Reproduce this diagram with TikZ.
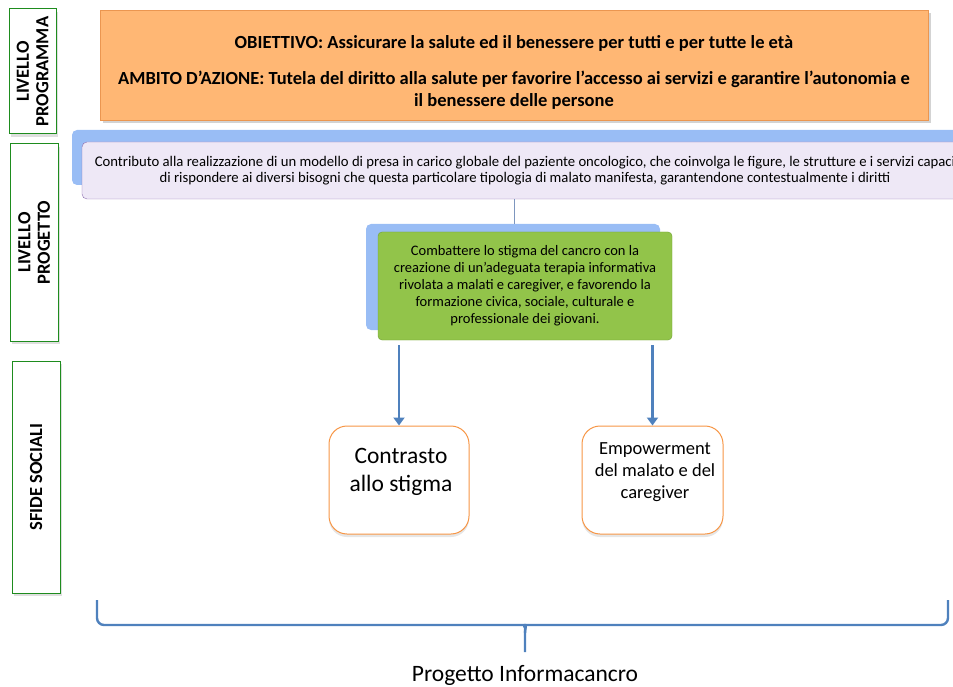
\documentclass[tikz,border=0pt]{standalone}
\usepackage{fontspec}
\setmainfont{Carlito}
\usetikzlibrary{shadows,arrows.meta,calc}
\definecolor{levelgreen}{RGB}{30,140,30}
\definecolor{goalorange}{RGB}{255,183,116}
\definecolor{goalborder}{RGB}{235,150,80}
\definecolor{backblue}{RGB}{153,189,245}
\definecolor{lavfill}{RGB}{238,232,246}
\definecolor{lavborder}{RGB}{140,110,175}
\definecolor{aimgreen}{RGB}{146,196,74}
\definecolor{aimborder}{RGB}{112,160,50}
\definecolor{arrowblue}{RGB}{79,129,189}
\definecolor{linkblue}{RGB}{125,150,190}
\definecolor{boxorange}{RGB}{247,150,70}
\tikzset{
    level/.style = {draw=levelgreen, line width=1pt, fill=white, rotate=90,
        align=center, inner sep=0pt,
        font=\fontsize{18.5}{19.5}\selectfont\bfseries,
        drop shadow={shadow xshift=2pt, shadow yshift=-3pt, opacity=0.25}},
    goal/.style = {draw=goalborder, fill=goalorange,
        minimum width=828pt, minimum height=110pt, inner sep=0pt,
        drop shadow={shadow xshift=3pt, shadow yshift=-3pt, opacity=0.35}},
    goaltext/.style = {align=center, inner sep=0pt,
        font=\fontsize{18.5}{22}\selectfont\bfseries},
    backbox/.style = {fill=backblue, rounded corners=5pt, inner sep=0pt},
    aim/.style = {draw=lavborder, fill=lavfill, rounded corners=5pt,
        align=center, inner sep=0pt,
        font=\fontsize{14.7}{16.5}\selectfont},
    task/.style = {draw=aimborder, fill=aimgreen, rounded corners=4pt,
        align=center, inner sep=0pt,
        font=\fontsize{14.5}{17}\selectfont},
    challenge/.style = {draw=boxorange, line width=1pt, fill=white,
        rounded corners=18pt, minimum width=140pt, minimum height=108pt,
        drop shadow={shadow xshift=0pt, shadow yshift=-3pt, opacity=0.2}},
    arrow/.style = {draw=arrowblue, line width=2.4pt,
        -{Triangle[width=11pt,length=8pt]}},
    link/.style = {draw=linkblue, line width=1pt},
    brace/.style = {draw=arrowblue, line width=2.4pt, line join=round}
}

\begin{document}
\begin{tikzpicture}[x=1pt,y=-1pt]
    \useasboundingbox (0,0) rectangle (953,687);
    \clip (0,0) rectangle (953,687);
    % left level labels
    \node [level, minimum width=125pt, minimum height=47pt] (lprog) at (32.5,71.5) {LIVELLO\\PROGRAMMA};
    \node [level, minimum width=197pt, minimum height=48pt] (lproj) at (34,242.5) {LIVELLO\\PROGETTO};
    \node [level, minimum width=232pt, minimum height=48pt] (lsfide) at (36,477) {SFIDE SOCIALI};
    % programme level
    \node [goal] (goal) at (514,65) {};
    \node [goaltext] (goaltxt) at (514,72) {OBIETTIVO: Assicurare la salute ed il benessere per tutti e per tutte le età\\[14pt]
        AMBITO D’AZIONE: Tutela del diritto alla salute per favorire l’accesso ai servizi e garantire l’autonomia e\\
        il benessere delle persone};
    % project level
    \node [backbox, minimum width=890pt, minimum height=55pt] (aimback) at (517,157.5) {};
    \node [aim, minimum width=886pt, minimum height=57pt] (aim) at (525,170.5) {Contributo alla realizzazione di un modello di presa in carico globale del paziente oncologico, che coinvolga le figure, le strutture e i servizi capaci\\
        di rispondere ai diversi bisogni che questa particolare tipologia di malato manifesta, garantendone contestualmente i diritti};
    \node [backbox, minimum width=294pt, minimum height=106pt] (taskback) at (513,277) {};
    \node [task, minimum width=294pt, minimum height=108pt] (task) at (525,286) {Combattere lo stigma del cancro con la\\
        creazione di un’adeguata terapia informativa\\
        rivolata a malati e caregiver, e favorendo la\\
        formazione civica, sociale, culturale e\\
        professionale dei giovani.};
    \draw [link] (aim.south -| 514,0) -- (taskback.north -| 514,0);
    % social challenges
    \node [challenge] (stigma) at (399,480) {};
    \node [align=center, font=\fontsize{23.5}{28}\selectfont] (stigmatext) at (401,472) {Contrasto\\allo stigma};
    \node [challenge, minimum width=141pt] (empow) at (652.5,480) {};
    \node [align=center, font=\fontsize{18.5}{22}\selectfont] (empowtext) at (655,472) {Empowerment\\del malato e del\\caregiver};
    \draw [arrow] ([yshift=-5pt]task.south -| stigma.north) -- (stigma.north);
    \draw [arrow] ([yshift=-5pt]task.south -| empow.north) -- (empow.north);
    % project brace
    \coordinate (bl) at (97,600);
    \coordinate (br) at (948,600);
    \coordinate (tip) at (525,652);
    \draw [brace, rounded corners=7pt] (bl) |- ($(tip)+(-6,-27)$) to[out=0,in=90] ($(tip)+(0,-19)$) -- (tip);
    \draw [brace, rounded corners=7pt] (br) |- ($(tip)+(6,-27)$) to[out=180,in=90] ($(tip)+(0,-19)$);
    \node [font=\fontsize{23.5}{26}\selectfont] (project) at (525,675) {Progetto Informacancro};
\end{tikzpicture}
\end{document}
